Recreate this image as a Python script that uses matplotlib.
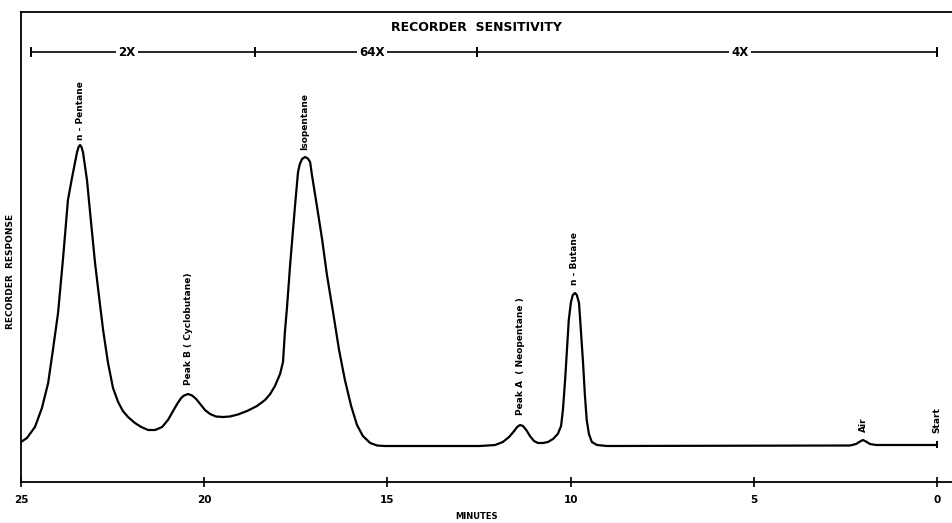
import numpy as np
import matplotlib.pyplot as plt

# chromatogram trace (minutes, recorder response)
minutes = [25.0, 24.84, 24.62, 24.43, 24.26, 24.13, 23.99, 23.85, 23.72, 23.61,
           23.53, 23.47, 23.43, 23.39, 23.35, 23.31, 23.20, 23.09, 22.98, 22.87,
           22.76, 22.63, 22.49, 22.35, 22.22, 22.08, 21.89, 21.72, 21.53, 21.34,
           21.15, 20.99, 20.85, 20.74, 20.63, 20.55, 20.44, 20.33, 20.22, 20.11,
           19.98, 19.84, 19.68, 19.49, 19.30, 19.08, 18.83, 18.56, 18.34, 18.20,
           18.07, 17.93, 17.85, 17.80, 17.74, 17.66, 17.60, 17.52, 17.44, 17.39,
           17.33, 17.25, 17.17, 17.11, 17.06, 16.92, 16.78, 16.65, 16.48, 16.32,
           16.16, 15.99, 15.83, 15.67, 15.47, 15.28, 15.07, 12.47, 12.06, 11.85,
           11.68, 11.54, 11.46, 11.38, 11.30, 11.21, 11.11, 11.00, 10.89, 10.75,
           10.62, 10.48, 10.35, 10.26, 10.21, 10.15, 10.10, 10.05, 9.99, 9.94,
           9.88, 9.83, 9.77, 9.72, 9.66, 9.61, 9.56, 9.50, 9.42, 9.28,
           9.01, 2.37, 2.21, 2.10, 2.02, 1.94, 1.83, 1.66, 0.0]
response = [40, 44, 55, 74, 99, 132, 169, 225, 282, 304,
            319, 330, 335, 337, 335, 330, 302, 260, 219, 185,
            152, 120, 94, 80, 71, 65, 59, 55, 52, 52,
            55, 62, 71, 78, 84, 86.5, 88, 86.5, 83, 78,
            72, 68, 65.5, 65, 65.5, 67.5, 71, 76, 82, 88,
            96, 108, 120, 149, 175, 215, 242, 277, 310, 318,
            323, 325, 323.5, 320, 307, 275, 242, 207, 169, 132,
            102, 76, 57, 46, 39, 36.5, 36, 36, 37, 40,
            45, 51, 55, 57, 56, 52, 46, 41, 39, 39,
            40, 43, 48, 56, 72, 102, 132, 162, 180, 187,
            189, 187, 179, 152, 119, 87, 62, 48, 40, 37,
            36, 36.5, 38, 40.5, 42, 40.5, 38, 37, 37]

# peak labels
peak_names = ['n - Pentane', 'Peak B ( Cyclobutane)', 'Isopentane',
              'Peak A  ( Neopentane )', 'n - Butane', 'Air', 'Start']
peak_times = [23.39, 20.44, 17.25, 11.38, 9.88, 2.02, 0.0]
peak_label_y = [342, 97, 332, 67, 197, 50, 49]

# recorder sensitivity ranges
sens_edges = [24.73, 18.61, 12.55, 0.0]
sens_labels = ['2X', '64X', '4X']
sens_label_x = [22.11, 15.42, 5.38]
sens_y = 430

fig = plt.figure(figsize=(9.52, 5.23), dpi=100)
ax = fig.add_axes([0.0221, 0.0784, 0.9779, 0.8986])

ax.plot(minutes, response, color='black', lw=1.6,
        solid_joinstyle='round', solid_capstyle='round')
ax.vlines(minutes[-1], response[-1] - 3, response[-1] + 4, color='black', lw=1.4)

ax.set_xlim(25, -0.41)
ax.set_ylim(0, 470)

for name, t, y in zip(peak_names, peak_times, peak_label_y):
    ax.text(t, y, name, rotation=90, ha='center', va='bottom',
            fontsize=6.5, fontweight='bold')

# sensitivity bar
ax.hlines(sens_y, sens_edges[0], sens_edges[-1], color='black', lw=1.2)
ax.vlines(sens_edges, sens_y - 5, sens_y + 5, color='black', lw=1.4)
for lab, t in zip(sens_labels, sens_label_x):
    ax.text(t, sens_y, lab, ha='center', va='center', fontsize=8.5,
            fontweight='bold', bbox=dict(facecolor='white', edgecolor='none', pad=1.5))
ax.text(12.58, 455, 'RECORDER  SENSITIVITY', ha='center', va='center',
        fontsize=9, fontweight='bold')

ax.spines['right'].set_visible(False)
for s in ['left', 'top', 'bottom']:
    ax.spines[s].set_linewidth(1.3)

ax.set_xticks([25, 20, 15, 10, 5, 0])
ax.set_xticklabels(['25', '20', '15', '10', '5', '0'], fontsize=7.5, fontweight='bold')
ax.tick_params(axis='x', direction='inout', length=7, width=1.2, pad=6)
ax.set_yticks([])

ax.text(-0.011, 0.447, 'RECORDER  RESPONSE', transform=ax.transAxes, rotation=90,
        ha='center', va='center', fontsize=6.5, fontweight='bold')
fig.text(0.5, 0.012, 'MINUTES', ha='center', va='center', fontsize=6, fontweight='bold')

fig.savefig('out.png', dpi=100)
